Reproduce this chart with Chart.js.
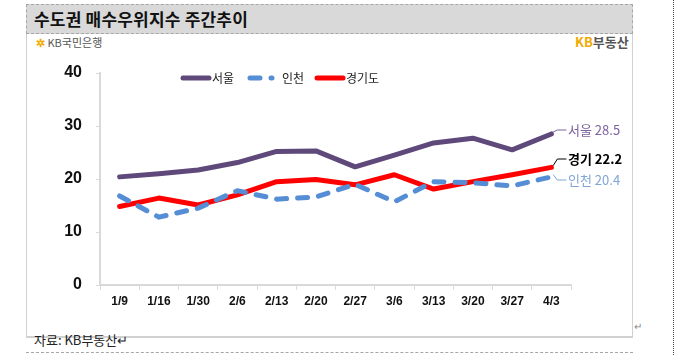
<!DOCTYPE html>
<html><head><meta charset="utf-8">
<script src="https://cdn.jsdelivr.net/npm/chart.js@4/dist/chart.umd.min.js"></script>
<style>
html,body{margin:0;padding:0;background:#fff;}
body{width:675px;height:355px;position:relative;overflow:hidden;font-family:"Noto Sans CJK KR","Noto Sans",sans-serif;}
#titlebar{position:absolute;left:26px;top:4px;width:607px;height:30px;background:#d9d9d9;border:1px dashed #a6a6a6;box-sizing:border-box;}
#title{position:absolute;left:34px;top:6px;font-size:17px;font-weight:bold;color:#111;letter-spacing:0.2px;}
#box{position:absolute;left:26px;top:34px;width:607px;height:304px;border-left:1px solid #d0d0d0;border-right:1px solid #d0d0d0;border-bottom:2px solid #d0d0d0;box-sizing:border-box;}
#kbbank{position:absolute;left:36px;top:34px;font-size:11px;color:#555;}
#kbbank span{color:#f2a900;font-weight:bold;}
#kbland{position:absolute;left:575px;top:32px;font-size:13px;font-weight:bold;color:#555;}
#kbland span{color:#f2a900;}
#src{position:absolute;left:34px;top:330px;font-size:13px;color:#222;}
#ret{position:absolute;left:634px;top:318px;font-size:10px;color:#888;}
#foot{position:absolute;left:26px;top:352px;width:607px;border-top:1px dashed #a6a6a6;}
#rdot{position:absolute;left:673px;top:0;height:355px;border-left:1px dotted #444;}
canvas{position:absolute;left:0;top:0;}
</style></head>
<body>
<div id="titlebar"></div>
<div id="title">수도권 매수우위지수 주간추이</div>
<div id="box"></div>
<div id="kbbank"><span>✲</span> KB국민은행</div>
<div id="kbland"><span>KB</span>부동산</div>
<div id="src">자료: KB부동산↵</div>
<div id="ret">↵</div>
<div id="foot"></div>
<div id="rdot"></div>
<canvas id="c" width="675" height="355"></canvas>
<script>
const categories = ["1/9","1/16","1/30","2/6","2/13","2/20","2/27","3/6","3/13","3/20","3/27","4/3"];
const seoul    = [20.4, 21.0, 21.7, 23.1, 25.2, 25.3, 22.3, 24.5, 26.8, 27.7, 25.5, 28.5];
const incheon  = [16.8, 12.8, 14.5, 17.8, 16.2, 16.6, 19.0, 15.7, 19.5, 19.3, 18.7, 20.4];
const gyeonggi = [14.8, 16.4, 15.1, 17.0, 19.5, 19.9, 18.9, 20.8, 18.1, 19.5, 20.8, 22.2];
const seriesNames = ["서울","인천","경기도"];
const endNames = ["서울","인천","경기"];
const yTicks = [0,10,20,30,40];

const colors = ["#5f497a","#558ed5","#ff0000"];
const labelColors = ["#7d62a0","#7ea5d6","#000000"];

const legendPlugin = {
  id:"customLegend",
  afterDraw(chart){
    const ctx = chart.ctx;
    ctx.save();
    const items = [
      {x1:181,x2:211,tx:212},
      {x1:248,x2:274,tx:282},
      {x1:315,x2:345,tx:346}
    ];
    const y = 78;
    chart.data.datasets.forEach((ds,i)=>{
      const it = items[i];
      ctx.beginPath();
      ctx.lineWidth = 5;
      ctx.lineCap = "round";
      ctx.strokeStyle = ds.borderColor;
      ctx.setLineDash(ds.borderDash || []);
      ctx.moveTo(it.x1+2,y);ctx.lineTo(it.x2-2,y);
      ctx.stroke();
      ctx.setLineDash([]);
      ctx.fillStyle = "#222";
      ctx.font = '12px "Noto Sans CJK KR"';
      ctx.textBaseline = "middle";
      ctx.textAlign = "left";
      ctx.fillText(ds.label, it.tx, y);
    });
    const offs = [{ly:130},{ly:180},{ly:159}];
    chart.data.datasets.forEach((ds,i)=>{
      const meta = chart.getDatasetMeta(i);
      const p = meta.data[meta.data.length-1];
      const v = ds.data[ds.data.length-1];
      const lx = 568;
      const ly = offs[i].ly;
      ctx.beginPath();
      ctx.lineWidth = 1;
      ctx.strokeStyle = i===2 ? "#000" : labelColors[i];
      ctx.moveTo(p.x+2, p.y-2);
      ctx.lineTo(p.x+6, ly);
      ctx.lineTo(lx-2, ly);
      ctx.stroke();
      ctx.fillStyle = labelColors[i];
      ctx.font = (i===2 ? 'bold ' : '') + '13px "Noto Sans CJK KR"';
      ctx.textBaseline = "middle";
      ctx.textAlign = "left";
      ctx.fillText(endNames[i] + " " + v.toFixed(1), lx, ly);
    });
    ctx.restore();
  }
};

new Chart(document.getElementById("c"), {
  type:"line",
  data:{
    labels:categories,
    datasets:[
      {label:seriesNames[0],data:seoul,borderColor:colors[0],backgroundColor:colors[0]},
      {label:seriesNames[1],data:incheon,borderColor:colors[1],backgroundColor:colors[1],borderDash:[10,11]},
      {label:seriesNames[2],data:gyeonggi,borderColor:colors[2],backgroundColor:colors[2]}
    ]
  },
  options:{
    responsive:false,
    animation:false,
    devicePixelRatio:1,
    layout:{padding:{left:58,right:104,top:73,bottom:40}},
    elements:{
      line:{borderWidth:5,tension:0,borderCapStyle:"round",borderJoinStyle:"round",fill:false},
      point:{radius:0,hoverRadius:0}
    },
    plugins:{legend:{display:false},tooltip:{enabled:false}},
    scales:{
      x:{
        offset:true,
        grid:{offset:true,drawOnChartArea:false,tickLength:5,color:"#d9d9d9",lineWidth:1},
        border:{color:"#d9d9d9",width:2},
        ticks:{color:"#111",font:{family:"Liberation Sans",size:12,weight:"bold"},padding:4,maxRotation:0,autoSkip:false},
        afterFit(s){s.height=30;}
      },
      y:{
        min:0,max:40,
        afterBuildTicks(s){s.ticks = yTicks.map(v=>({value:v}));},
        grid:{drawOnChartArea:false,tickLength:4,color:"#d9d9d9"},
        border:{color:"#d9d9d9",width:2},
        ticks:{color:"#111",font:{family:"Liberation Sans",size:16,weight:"bold"},padding:14},
        afterFit(s){s.width=42;}
      }
    }
  },
  plugins:[legendPlugin]
});
</script>
</body></html>
